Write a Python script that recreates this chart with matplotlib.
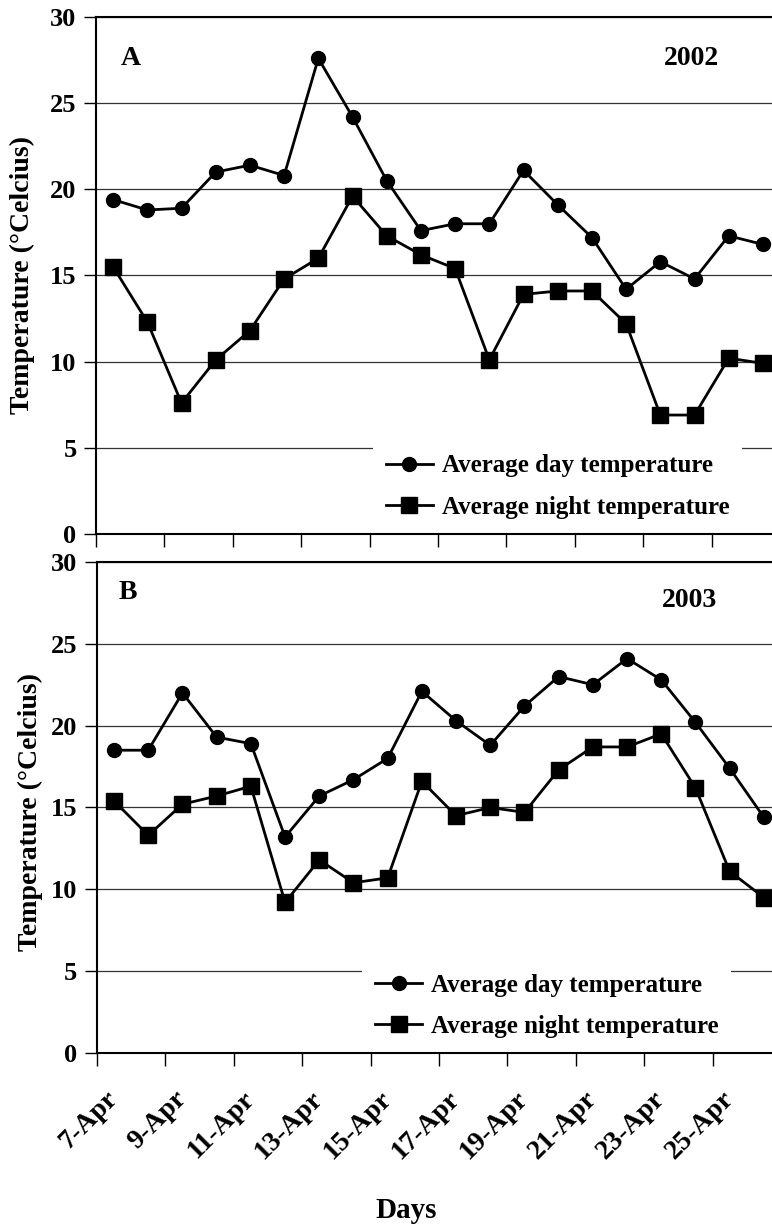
import matplotlib.pyplot as plt

# dates on the x axis (one point per day)
days = ["7-Apr", "8-Apr", "9-Apr", "10-Apr", "11-Apr", "12-Apr", "13-Apr",
        "14-Apr", "15-Apr", "16-Apr", "17-Apr", "18-Apr", "19-Apr", "20-Apr",
        "21-Apr", "22-Apr", "23-Apr", "24-Apr", "25-Apr", "26-Apr"]

# panel A, 2002
day_2002 = [19.4, 18.8, 18.9, 21.0, 21.4, 20.8, 27.6, 24.2, 20.5, 17.6,
            18.0, 18.0, 21.1, 19.1, 17.2, 14.2, 15.8, 14.8, 17.3, 16.8]
night_2002 = [15.5, 12.3, 7.6, 10.1, 11.8, 14.8, 16.0, 19.6, 17.3, 16.2,
              15.4, 10.1, 13.9, 14.1, 14.1, 12.2, 6.9, 6.9, 10.2, 9.9]

# panel B, 2003
day_2003 = [18.5, 18.5, 22.0, 19.3, 18.9, 13.2, 15.7, 16.7, 18.0, 22.1,
            20.3, 18.8, 21.2, 23.0, 22.5, 24.1, 22.8, 20.2, 17.4, 14.4]
night_2003 = [15.4, 13.3, 15.2, 15.7, 16.3, 9.2, 11.8, 10.4, 10.7, 16.6,
              14.5, 15.0, 14.7, 17.3, 18.7, 18.7, 19.5, 16.2, 11.1, 9.5]

plt.rcParams['font.family'] = ['Liberation Serif', 'DejaVu Serif']
plt.rcParams['font.weight'] = 'bold'
plt.rcParams['axes.labelweight'] = 'bold'

fig = plt.figure(figsize=(7.72, 12.30), dpi=100)
ax1 = fig.add_axes([0.1244, 0.5659, 0.886, 0.4203])
ax2 = fig.add_axes([0.1256, 0.1439, 0.886, 0.3992])

x = list(range(1, len(days) + 1))


def panel(ax, day, night, letter, year, txt_xy, year_xy, leg_xy, ylab_xy):
    ax.plot(x, day, color="black", lw=2, marker="o", ms=10,
            label="Average day temperature", clip_on=False, zorder=3)
    ax.plot(x, night, color="black", lw=2, marker="s", ms=11,
            label="Average night temperature", clip_on=False, zorder=3)
    ax.set_xlim(0.5, 20.5)
    ax.set_ylim(0, 30)
    ax.set_yticks(range(0, 31, 5))
    ax.yaxis.grid(True, color="#333333", lw=0.9)
    ax.set_axisbelow(True)
    for s in ax.spines.values():
        s.set_linewidth(1.5)
        s.set_color("black")
    ax.tick_params(axis="y", direction="out", length=9, width=1, pad=5,
                   labelsize=19)
    # boundary ticks every 2 days, no labels
    ax.set_xticks([i + 0.5 for i in range(0, 21, 2)])
    ax.set_xticklabels([])
    ax.tick_params(axis="x", which="major", direction="out", length=9, width=1)
    ax.set_ylabel("Temperature (\u00b0Celcius)", fontsize=20)
    ax.yaxis.set_label_coords(*ylab_xy)
    ax.text(txt_xy[0], txt_xy[1], letter, transform=ax.transAxes, fontsize=20,
            ha="center", va="center")
    ax.text(year_xy[0], year_xy[1], year, transform=ax.transAxes, fontsize=20,
            ha="center", va="center")
    leg = ax.legend(loc="upper left", bbox_to_anchor=leg_xy, frameon=True,
                    fontsize=18, handlelength=1.9, handletextpad=0.35,
                    borderpad=0.5, labelspacing=0.73, borderaxespad=0)
    leg.get_frame().set_facecolor("white")
    leg.get_frame().set_edgecolor("none")
    leg.get_frame().set_alpha(1)
    leg.get_frame().set_boxstyle("square", pad=0)


panel(ax1, day_2002, night_2002, "A", "2002", (0.051, 0.92), (0.87, 0.92),
      (0.405, 0.178), (-0.089, 0.5))
panel(ax2, day_2003, night_2003, "B", "2003", (0.045, 0.937), (0.867, 0.921),
      (0.388, 0.187), (-0.079, 0.49))

# date labels on alternate days
ax2.set_xticks(x[::2], days[::2], minor=True)
ax2.tick_params(axis="x", which="minor", length=0, pad=30, labelsize=20)
for lab in ax2.get_xticklabels(minor=True):
    lab.set_rotation(45)
    lab.set_rotation_mode("anchor")
    lab.set_ha("right")
    lab.set_va("center")

fig.text(406 / 772, 1 - 1211 / 1230, "Days", fontsize=21, fontweight="bold",
         ha="center", va="center")

fig.savefig("out.png", dpi=100)
